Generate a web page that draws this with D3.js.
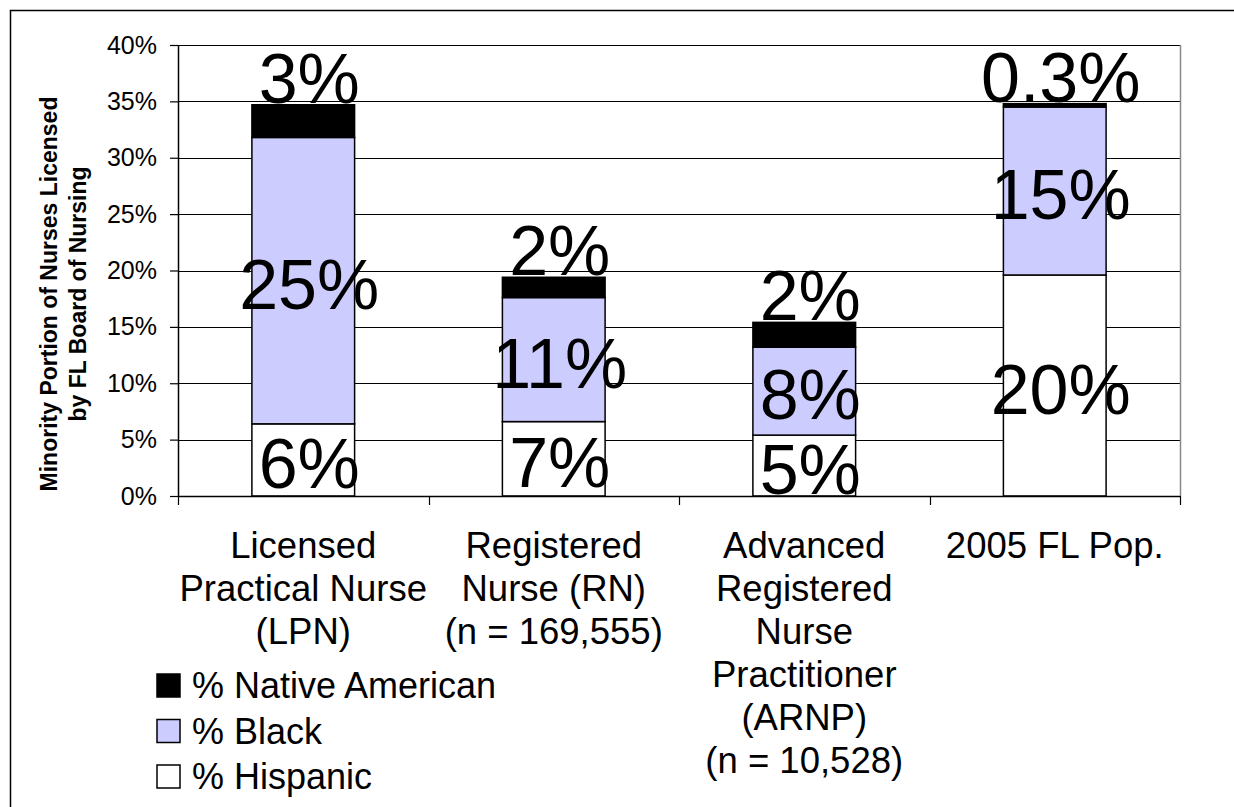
<!DOCTYPE html>
<html>
<head>
<meta charset="utf-8">
<script src="https://cdn.jsdelivr.net/npm/d3@7"></script>
<style>
  html, body { margin: 0; padding: 0; background: #fff; }
  svg { display: block; font-family: "Liberation Sans", Arial, sans-serif; }
</style>
</head>
<body>
<svg id="chart" width="1234" height="807"></svg>
<script>
// ---- data ----
const categories = ["LPN", "RN", "ARNP", "FL"];
const categoryLines = [
  ["Licensed", "Practical Nurse", "(LPN)"],
  ["Registered", "Nurse (RN)", "(n = 169,555)"],
  ["Advanced", "Registered", "Nurse", "Practitioner", "(ARNP)", "(n = 10,528)"],
  ["2005 FL Pop."]
];
const seriesNames = ["% Hispanic", "% Black", "% Native American"];
const hispanic = [6.4, 6.6, 5.4, 19.6];
const black = [25.4, 11.0, 7.8, 14.9];
const native = [2.9, 1.8, 2.2, 0.3];
const hispanicLabels = ["6%", "7%", "5%", "20%"];
const blackLabels = ["25%", "11%", "8%", "15%"];
const nativeLabels = ["3%", "2%", "2%", "0.3%"];
const yTicks = [0, 5, 10, 15, 20, 25, 30, 35, 40];
const colors = ["#FFFFFF", "#CCCCFF", "#000000"];

// ---- layout ----
const svg = d3.select("#chart");
const plot = { left: 178, right: 1180, top: 45, bottom: 496 };

const x = d3.scaleBand().domain(categories).range([plot.left, plot.right]).padding(0);
const y = d3.scaleLinear().domain([0, 40]).range([plot.bottom, plot.top]);
const barW = x.bandwidth() * 0.41;

// outer border
svg.append("rect").attr("x", 10.5).attr("y", 10.5).attr("width", 1400).attr("height", 1000)
  .attr("fill", "none").attr("stroke", "#000").attr("stroke-width", 1.5);

// gridlines
svg.append("g").selectAll("line").data(yTicks.filter(d => d > 0)).join("line")
  .attr("x1", plot.left).attr("x2", plot.right)
  .attr("y1", d => Math.round(y(d)) + 0.5).attr("y2", d => Math.round(y(d)) + 0.5)
  .attr("stroke", "#000").attr("stroke-width", 1);

// right edge of plot area
svg.append("line").attr("x1", plot.right + 0.5).attr("x2", plot.right + 0.5)
  .attr("y1", plot.top).attr("y2", plot.bottom).attr("stroke", "#888").attr("stroke-width", 1.5);

// stacked data
const rows = categories.map((c, i) => ({ cat: c, h: hispanic[i], b: black[i], n: native[i] }));
const stack = d3.stack().keys(["h", "b", "n"]);
const stacked = stack(rows);
const labelSets = [hispanicLabels, blackLabels, nativeLabels];

const gBars = svg.append("g");
stacked.forEach((layer, li) => {
  gBars.append("g").selectAll("rect").data(layer).join("rect")
    .attr("x", d => x(d.data.cat) + x.bandwidth() / 2 - barW / 2)
    .attr("y", d => y(d[1]))
    .attr("width", barW)
    .attr("height", d => y(d[0]) - y(d[1]))
    .attr("fill", colors[li])
    .attr("stroke", "#000").attr("stroke-width", 1.5);
});

// axes
const yAxis = d3.axisLeft(y).tickValues(yTicks).tickFormat(d => d + "%").tickSize(8).tickSizeOuter(0);
const gy = svg.append("g").attr("transform", `translate(${plot.left},0)`).call(yAxis);
gy.select(".domain").attr("stroke", "#000").attr("stroke-width", 1.5);
gy.selectAll(".tick line").attr("stroke", "#000").attr("stroke-width", 1.2);
gy.selectAll(".tick text").attr("font-size", 25).attr("fill", "#000").attr("x", -21)
  .attr("font-family", "'Liberation Sans', Arial, sans-serif");

const xAxisLine = svg.append("g");
xAxisLine.append("line").attr("x1", plot.left).attr("x2", plot.right)
  .attr("y1", plot.bottom + 0.5).attr("y2", plot.bottom + 0.5)
  .attr("stroke", "#000").attr("stroke-width", 1.5);
const boundaries = categories.map(c => x(c)).concat([x(categories[categories.length - 1]) + x.bandwidth()]);
xAxisLine.selectAll("line.tk").data(boundaries).join("line").attr("class", "tk")
  .attr("x1", d => Math.round(d) + 0.5).attr("x2", d => Math.round(d) + 0.5)
  .attr("y1", plot.bottom).attr("y2", plot.bottom + 9)
  .attr("stroke", "#000").attr("stroke-width", 1.2);

// data labels
const gLabels = svg.append("g").attr("font-size", 70).attr("fill", "#000").attr("text-anchor", "middle");
stacked.forEach((layer, li) => {
  gLabels.append("g").selectAll("text").data(layer).join("text")
    .attr("x", d => x(d.data.cat) + x.bandwidth() / 2 + 6)
    .attr("y", (d, i) => li === 2 ? y(d[1]) - 2 : (y(d[0]) + y(d[1])) / 2 + 28)
    .text((d, i) => labelSets[li][i]);
});

// category labels
const gCat = svg.append("g").attr("font-size", 36.5).attr("fill", "#000").attr("text-anchor", "middle");
categories.forEach((c, i) => {
  const t = gCat.append("text").attr("x", x(c) + x.bandwidth() / 2).attr("y", 558);
  categoryLines[i].forEach((line, k) => {
    t.append("tspan").attr("x", x(c) + x.bandwidth() / 2).attr("y", 558 + k * 43).text(line);
  });
});

// y-axis title
const yTitle = ["Minority Portion of Nurses Licensed", "by FL Board of Nursing"];
const gT = svg.append("g").attr("font-size", 23).attr("font-weight", "bold").attr("text-anchor", "middle");
yTitle.forEach((line, k) => {
  const bx = 57 + k * 29;
  gT.append("text").attr("transform", `translate(${bx},294) rotate(-90)`).text(line);
});

// legend
const legendOrder = [2, 1, 0];
const gL = svg.append("g");
legendOrder.forEach((si, k) => {
  const row = gL.append("g").attr("transform", `translate(157,${674 + k * 45.5})`);
  row.append("rect").attr("x", 0).attr("y", 0).attr("width", 23).attr("height", 23)
    .attr("fill", colors[si]).attr("stroke", "#000").attr("stroke-width", 1.5);
  row.append("text").attr("x", 35).attr("y", 24).attr("font-size", 36).attr("fill", "#000")
    .text(seriesNames[si]);
});
</script>
</body>
</html>
